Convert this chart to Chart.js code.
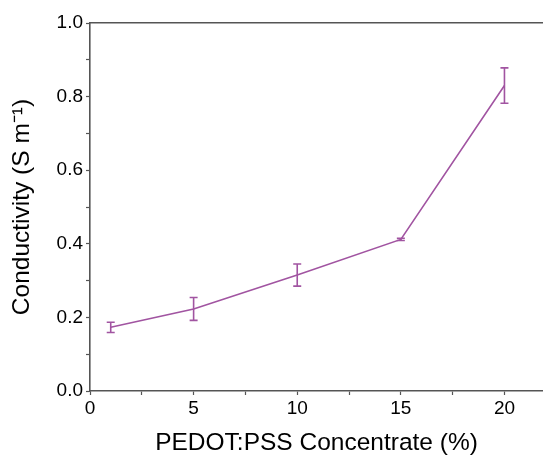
<!DOCTYPE html>
<html>
<head>
<meta charset="utf-8">
<script src="https://cdn.jsdelivr.net/npm/chart.js@4"></script>
<style>
  html, body { margin: 0; padding: 0; background: #fff; overflow: hidden; }
</style>
</head>
<body>
<canvas id="chart" width="543" height="463"></canvas>
<script>
const concentration = [1, 5, 10, 15, 20];
const conductivity = [0.173, 0.223, 0.315, 0.412, 0.830];
const errors = [0.014, 0.031, 0.030, 0.003, 0.048];
const xTicks = [0, 2.5, 5, 7.5, 10, 12.5, 15, 17.5, 20];
const yTicks = [0, 0.1, 0.2, 0.3, 0.4, 0.5, 0.6, 0.7, 0.8, 0.9, 1.0];

const purple = "#a154a1";
const axisColor = "#555555";

// draws the vertical error bars with caps
const errorBars = {
	id: "errorBars",
	afterDatasetsDraw(chart) {
		const ctx = chart.ctx;
		const xs = chart.scales.x;
		const ys = chart.scales.y;
		ctx.save();
		ctx.strokeStyle = purple;
		ctx.lineWidth = 1.6;
		concentration.forEach((c, i) => {
			const px = xs.getPixelForValue(c);
			const top = ys.getPixelForValue(conductivity[i] + errors[i]);
			const bot = ys.getPixelForValue(conductivity[i] - errors[i]);
			ctx.beginPath();
			ctx.moveTo(px, top);
			ctx.lineTo(px, bot);
			ctx.moveTo(px - 4, top);
			ctx.lineTo(px + 4, top);
			ctx.moveTo(px - 4, bot);
			ctx.lineTo(px + 4, bot);
			ctx.stroke();
		});
		ctx.restore();
	},
};

const family = "'Liberation Sans', Arial, sans-serif";
const tickFont = { family: family, size: 19 };
const titleFont = { family: family, size: 24.5 };

new Chart(document.getElementById("chart"), {
	type: "scatter",
	data: {
		datasets: [
			{
				data: concentration.map((c, i) => ({ x: c, y: conductivity[i] })),
				showLine: true,
				borderColor: purple,
				borderWidth: 1.6,
				pointRadius: 0,
				tension: 0,
			},
		],
	},
	options: {
		responsive: false,
		animation: false,
		layout: { padding: { top: 23, right: 0, left: 0, bottom: 0 } },
		plugins: { legend: { display: false }, tooltip: { enabled: false } },
		scales: {
			x: {
				type: "linear",
				min: 0,
				max: 21.86,
				afterBuildTicks: (scale) => {
					scale.ticks = xTicks.map((v) => ({ value: v }));
				},
				afterFit: (scale) => {
					scale.height = 72;
				},
				ticks: {
					color: "#000",
					font: tickFont,
					padding: 2,
					maxRotation: 0,
					callback: (v) => (v % 5 === 0 ? String(v) : ""),
				},
				grid: {
					drawOnChartArea: false,
					drawTicks: true,
					tickLength: 4,
					tickColor: axisColor,
					tickWidth: 1.2,
				},
				border: { display: true, color: axisColor, width: 1.6 },
				title: {
					display: true,
					text: "PEDOT:PSS Concentrate (%)",
					color: "#000",
					font: titleFont,
					padding: { top: 0, bottom: 5 },
				},
			},
			x2: {
				type: "linear",
				position: "top",
				min: 0,
				max: 21.86,
				ticks: { display: false },
				grid: { display: false },
				border: { display: true, color: axisColor, width: 1.6 },
				afterFit: (scale) => {
					scale.height = 0;
				},
			},
			y: {
				min: 0,
				max: 1,
				afterBuildTicks: (scale) => {
					scale.ticks = yTicks.map((v) => ({ value: v }));
				},
				afterFit: (scale) => {
					scale.width = 90;
				},
				ticks: {
					color: "#000",
					font: tickFont,
					padding: 3,
					callback: (v) => (Math.round(v * 10) % 2 === 0 ? v.toFixed(1) : ""),
				},
				grid: {
					drawOnChartArea: false,
					drawTicks: true,
					tickLength: 4,
					tickColor: axisColor,
					tickWidth: 1.2,
				},
				border: { display: true, color: axisColor, width: 1.6 },
				title: {
					display: true,
					text: "Conductivity (S m\u207B\u00B9)",
					color: "#000",
					font: titleFont,
					padding: { top: 8, bottom: 0 },
				},
			},
		},
	},
	plugins: [errorBars],
});
</script>
</body>
</html>
